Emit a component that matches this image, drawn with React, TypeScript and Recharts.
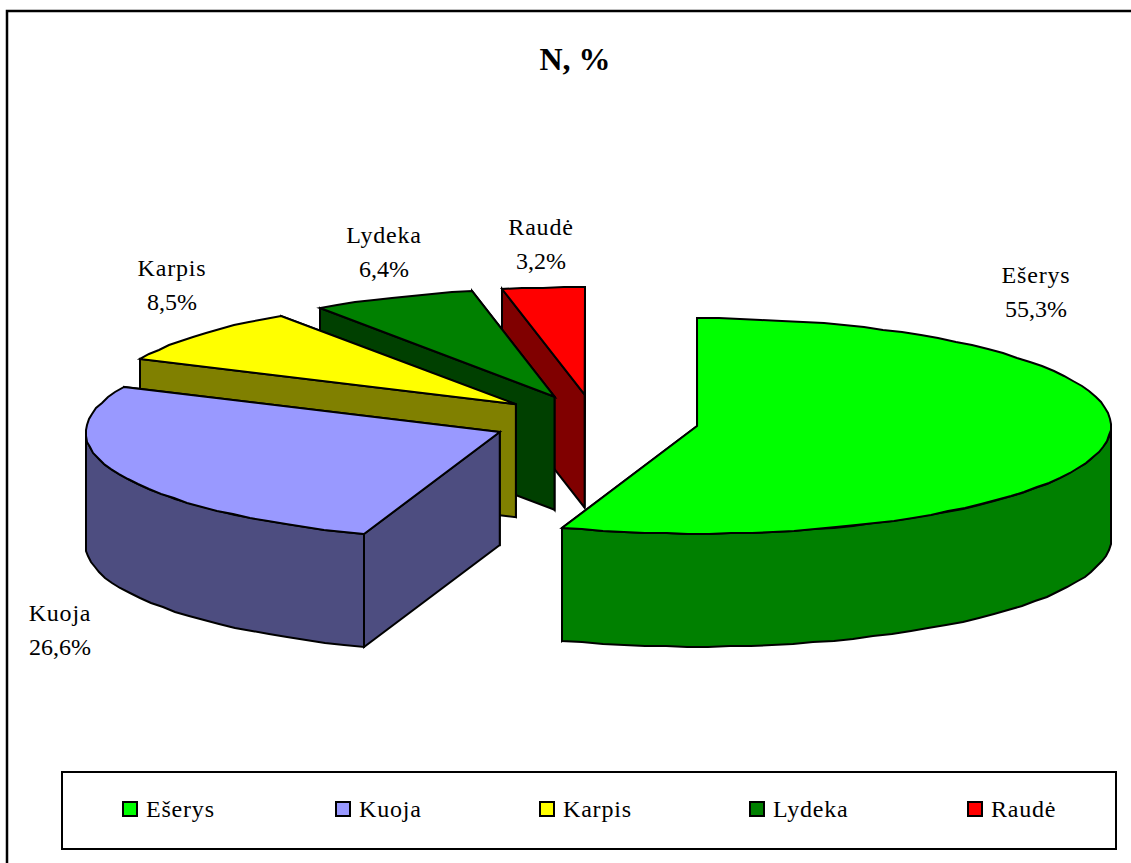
import { Legend, Pie, PieChart } from 'recharts';

const categories = ['Ešerys', 'Kuoja', 'Karpis', 'Lydeka', 'Raudė'];
const shares = [55.3, 26.6, 8.5, 6.4, 3.2];
const topColors = ['#00ff00', '#9999ff', '#ffff00', '#008000', '#ff0000'];
const wallColors = ['#008000', '#4d4d80', '#808000', '#004000', '#800000'];

const legendX = [122, 335, 539, 749, 967];
const labelAnchors = [
  [1036, 283],
  [60, 621],
  [172, 276],
  [384, 243],
  [541, 235],
];

// painted back to front, so the table runs backwards and the pie runs counter-clockwise from the top
const rows = categories
  .map((name, i) => ({ name, value: shares[i], index: i, fill: topColors[i], wall: wallColors[i] }))
  .reverse();

const SERIF = '"Liberation Serif", serif';
const TILT = 0.26;
const DEPTH = 113;
const EXPLODE = 0.25;

function Slice(props: any) {
  const { cx, cy, outerRadius: r, startAngle, endAngle, midAngle, payload } = props;
  const lo = Math.min(startAngle, endAngle);
  const hi = Math.max(startAngle, endAngle);
  const rad = (a: number) => (a * Math.PI) / 180;
  const ox = cx + EXPLODE * r * Math.cos(rad(midAngle));
  const oy = cy - EXPLODE * r * TILT * Math.sin(rad(midAngle));
  const rim = (a: number, drop = 0) => [
    Math.round(ox + r * Math.cos(rad(a))),
    Math.round(oy - r * TILT * Math.sin(rad(a))) + drop,
  ];
  const sweep = (a: number, b: number, drop = 0) => {
    const pts: number[][] = [];
    const n = Math.max(1, Math.ceil((b - a) / 3));
    for (let k = 0; k <= n; k++) pts.push(rim(a + ((b - a) * k) / n, drop));
    return pts;
  };
  const poly = (pts: number[][]) => 'M' + pts.map((p) => p.join(',')).join('L') + 'Z';
  const hub = [ox, oy];
  const radial = (a: number) => poly([hub, rim(a), rim(a, DEPTH), [ox, oy + DEPTH]]);
  const faces = [lo, hi].sort((a, b) => rim(a)[1] - rim(b)[1]);
  const wallLo = Math.max(lo, 180);
  const wallHi = Math.min(hi, 360);
  const line = { stroke: '#000', strokeWidth: 2, strokeLinejoin: 'miter' as const };
  return (
    <g>
      {faces.map((a) => (
        <path key={a} d={radial(a)} fill={payload.wall} {...line} />
      ))}
      {wallHi > wallLo && (
        <path
          d={poly([...sweep(wallLo, wallHi), ...sweep(wallLo, wallHi, DEPTH).reverse()])}
          fill={payload.wall}
          {...line}
        />
      )}
      <path d={poly([hub, ...sweep(lo, hi)])} fill={payload.fill} {...line} />
    </g>
  );
}

function SliceLabel(props: any) {
  const i = props.payload.index;
  const [x, y] = labelAnchors[i];
  return (
    <text x={x} y={y} textAnchor="middle" fontFamily={SERIF} fontSize={24} fill="#000">
      <tspan x={x} letterSpacing={0.8}>
        {categories[i]}
      </tspan>
      <tspan x={x} dy={34}>
        {shares[i].toFixed(1).replace('.', ',')}%
      </tspan>
    </text>
  );
}

function LegendBox() {
  return (
    <div
      style={{
        position: 'relative',
        boxSizing: 'border-box',
        width: 1056,
        height: 79,
        border: '2px solid #000',
        fontFamily: SERIF,
        fontSize: 24,
        letterSpacing: 0.8,
        color: '#000',
      }}
    >
      {categories.map((name, i) => (
        <div key={name} style={{ position: 'absolute', left: legendX[i] - 63, top: 20, display: 'flex', alignItems: 'center', lineHeight: '32px' }}>
          <span
            style={{
              display: 'inline-block',
              boxSizing: 'border-box',
              width: 16,
              height: 16,
              marginRight: 8,
              border: '2px solid #000',
              background: topColors[i],
            }}
          />
          {name}
        </div>
      ))}
    </div>
  );
}

export default function App() {
  return (
    <div style={{ position: 'absolute', left: 0, top: 0, width: 1131, height: 863, overflow: 'hidden', background: '#fff' }}>
      <PieChart width={1131} height={863} margin={{ top: 0, right: 0, bottom: 0, left: 0 }}>
        <rect x={7} y={11} width={1300} height={1000} fill="none" stroke="#000" strokeWidth={2.5} />
        <text x={575} y={70} textAnchor="middle" fontFamily={SERIF} fontSize={32} fontWeight="bold" fill="#000">
          N, %
        </text>
        <Pie
          data={rows}
          dataKey="value"
          nameKey="name"
          cx={595}
          cy={421.5}
          outerRadius={414}
          startAngle={90}
          endAngle={450}
          shape={Slice}
          label={SliceLabel}
          labelLine={false}
          isAnimationActive={false}
        />
        <Legend content={<LegendBox />} wrapperStyle={{ position: 'absolute', left: 61, top: 771, width: 1056, bottom: 'auto' }} />
      </PieChart>
    </div>
  );
}
